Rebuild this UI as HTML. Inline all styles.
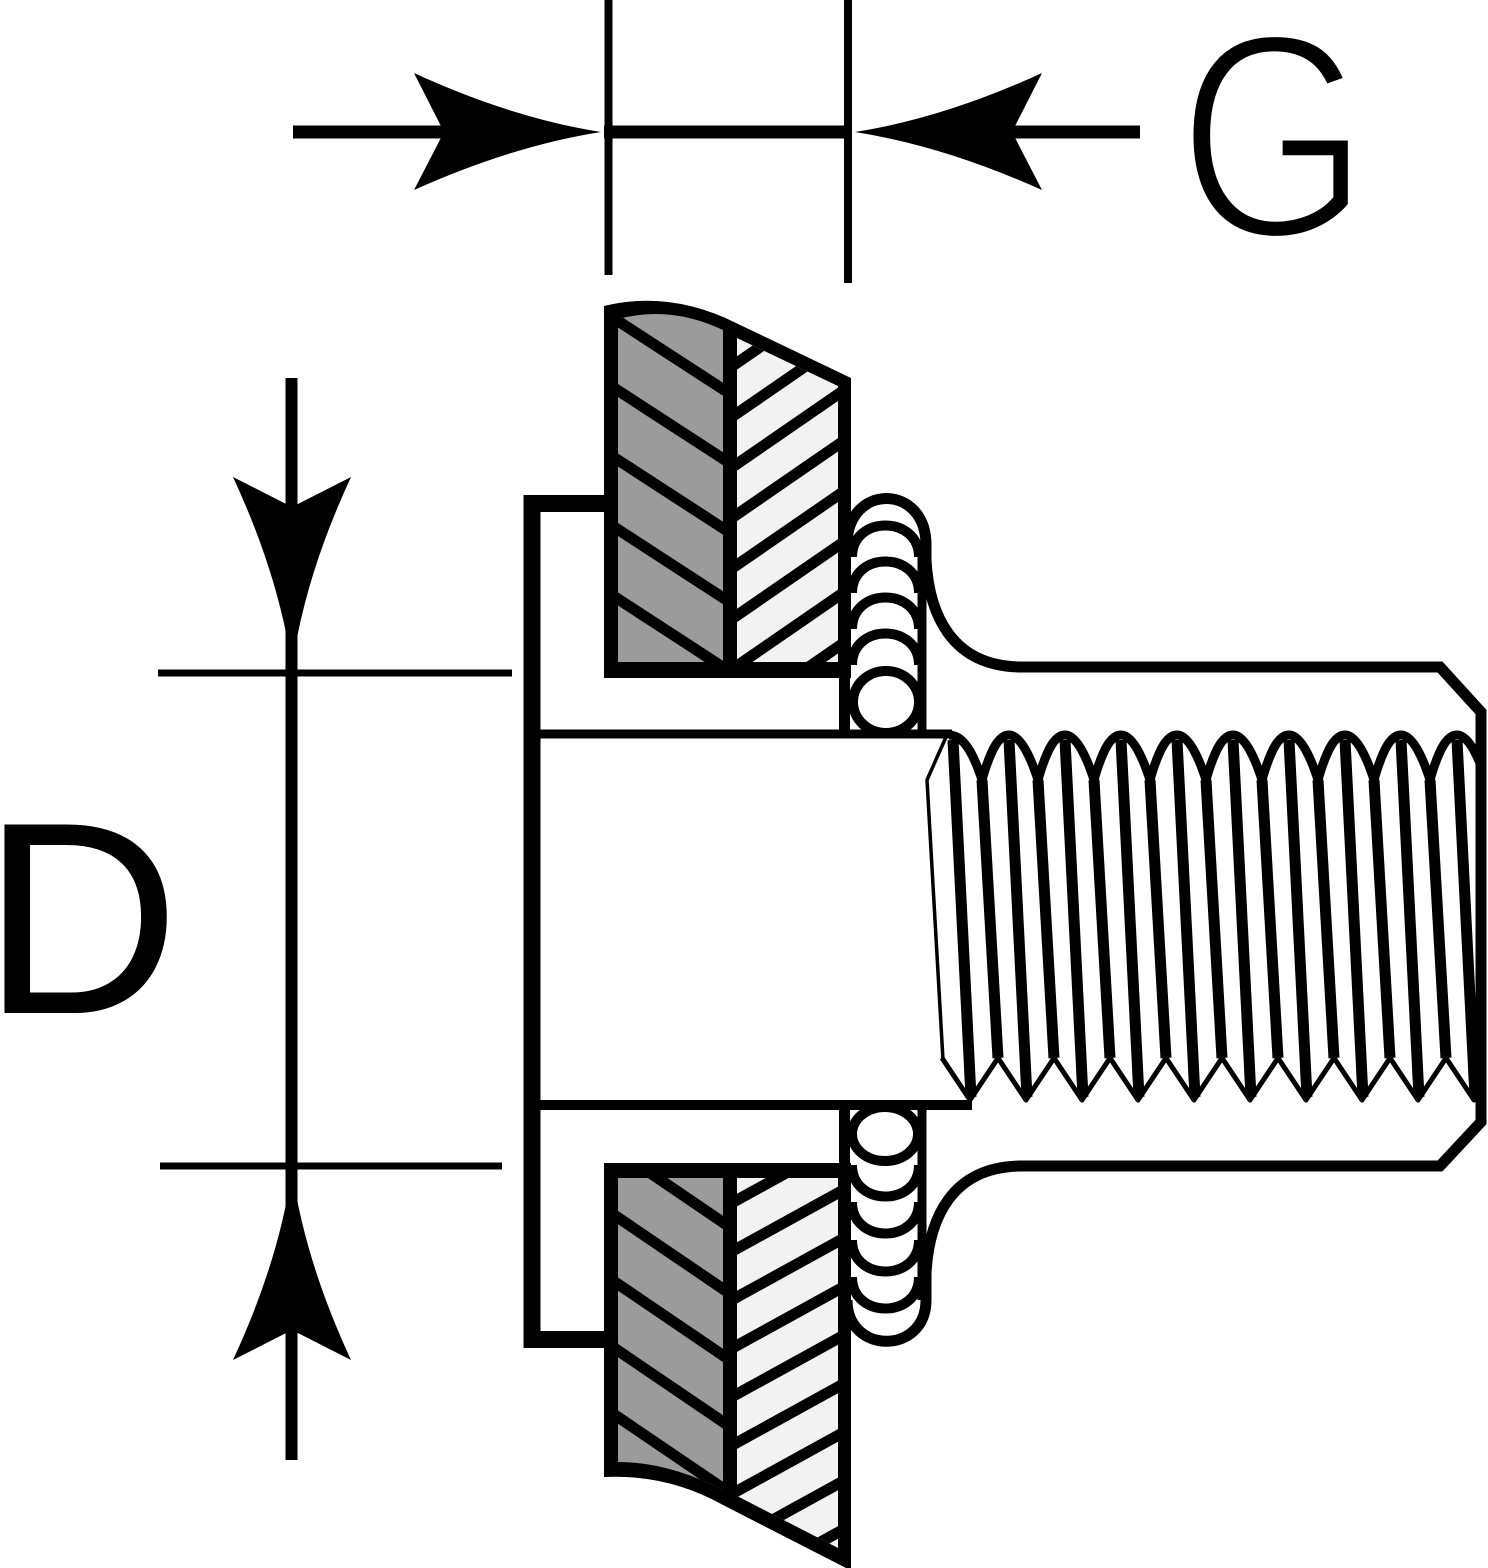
<!DOCTYPE html>
<html><head><meta charset="utf-8"><style>
html,body{margin:0;padding:0;background:#fff;}
svg{display:block;}
</style></head><body>
<svg width="1488" height="1568" viewBox="0 0 1488 1568" xmlns="http://www.w3.org/2000/svg">
<defs>
<clipPath id="gU"><path d="M618 319 Q670 305 723 330 L723 662 L618 662 Z"/></clipPath>
<clipPath id="hU"><path d="M737 338 L838 386 L838 662 L737 662 Z"/></clipPath>
<clipPath id="gL"><path d="M618 1178 L723 1178 L723 1490 Q668 1462 618 1462 Z"/></clipPath>
<clipPath id="hL"><path d="M737 1178 L838 1178 L838 1548 L737 1496 Z"/></clipPath>
<clipPath id="thr"><rect x="900" y="700" width="576" height="430"/></clipPath>
</defs>
<rect width="1488" height="1568" fill="#fff"/>

<!-- G dimension -->
<g fill="#000">
<rect x="604.5" y="0" width="8" height="275"/>
<rect x="844" y="0" width="8" height="283"/>
<rect x="293" y="125.5" width="152" height="13"/>
<rect x="604" y="125.5" width="244" height="13"/>
<rect x="1011" y="125.5" width="129" height="13"/>
<path d="M414 73 Q512 118 601 132 Q512 146 414 190 L444 132 Z"/>
<path d="M1042 73 Q944 118 855 132 Q944 146 1042 190 L1012 132 Z"/>
</g>
<text transform="translate(1177.7,237) scale(0.845,1)" font-family="Liberation Sans, Arial, sans-serif" font-size="292" fill="#000" stroke="#fff" stroke-width="8">G</text>

<!-- D dimension -->
<g fill="#000">
<rect x="285.5" y="378" width="12" height="1082"/>
<rect x="158" y="669.5" width="354" height="7"/>
<rect x="160" y="1162.5" width="342" height="7"/>
<path d="M233 477 Q279 576 292 667 Q305 576 351 477 L292 507 Z"/>
<path d="M233 1360 Q279 1261 292 1170 Q305 1261 351 1360 L292 1330 Z"/>
</g>
<text x="-18" y="1013" font-family="Liberation Sans, Arial, sans-serif" font-size="274" fill="#000">D</text>

<!-- Upper plate -->
<path d="M604 306 Q670 290 736 323 L851 378 L851 678 L604 678 Z" fill="#000"/>
<path d="M618 319 Q670 305 723 330 L723 662 L618 662 Z" fill="#9b9b9b"/>
<path d="M737 338 L838 386 L838 662 L737 662 Z" fill="#f2f2f2"/>
<g clip-path="url(#gU)" stroke="#000" stroke-width="11" fill="none">
<path d="M610 315.8 L730 393.8"/>
<path d="M610 385.3 L730 463.3"/>
<path d="M610 454.8 L730 532.8"/>
<path d="M610 524.3 L730 602.3"/>
<path d="M610 593.8 L730 671.8"/>
</g>
<g clip-path="url(#hU)" stroke="#000" stroke-width="11" fill="none">
<path d="M730 367.8 L845 288.5"/>
<path d="M730 418.3 L845 339"/>
<path d="M730 468.8 L845 389.5"/>
<path d="M730 519.3 L845 440"/>
<path d="M730 569.8 L845 490.5"/>
<path d="M730 620.3 L845 541"/>
<path d="M730 670.8 L845 591.5"/>
<path d="M730 721.3 L845 642"/>
</g>

<!-- Lower plate -->
<path d="M604 1163 L851 1163 L851 1568 L846 1568 L723 1505 Q668 1474 604 1477 Z" fill="#000"/>
<path d="M618 1178 L723 1178 L723 1490 Q668 1462 618 1462 Z" fill="#9b9b9b"/>
<path d="M737 1178 L838 1178 L838 1548 L737 1496 Z" fill="#f2f2f2"/>
<g clip-path="url(#gL)" stroke="#000" stroke-width="11" fill="none">
<path d="M610 1145.6 L730 1227.2"/>
<path d="M610 1212.1 L730 1293.7"/>
<path d="M610 1278.6 L730 1360.2"/>
<path d="M610 1345.1 L730 1426.7"/>
<path d="M610 1411.6 L730 1493.2"/>
</g>
<g clip-path="url(#hL)" stroke="#000" stroke-width="11" fill="none">
<path d="M730 1203.9 L845 1140.6"/>
<path d="M730 1252.4 L845 1189.1"/>
<path d="M730 1300.9 L845 1237.6"/>
<path d="M730 1349.4 L845 1286.1"/>
<path d="M730 1397.9 L845 1334.6"/>
<path d="M730 1446.4 L845 1383.1"/>
<path d="M730 1494.9 L845 1431.6"/>
<path d="M730 1543.4 L845 1480.1"/>
<path d="M730 1591.9 L845 1528.6"/>
</g>

<!-- Flange and bore -->
<g stroke="#000" fill="none" stroke-linejoin="miter">
<path d="M606 503.5 L532 503.5 L532 1339.5 L606 1339.5" stroke-width="17"/>
<path d="M532 734 L952 734" stroke-width="9"/>
<path d="M532 1105 L972 1105" stroke-width="10"/>
<path d="M844.5 670 L844.5 738 M844.5 1100 L844.5 1170" stroke-width="11"/>
<path d="M922 545 L922 736 M922 1103 L922 1300" stroke-width="9"/>
</g>

<!-- Coils upper -->
<g stroke="#000" fill="none" stroke-width="10">
<path d="M852 557 C852 515 919 515 919 557"/>
<path d="M852 593 C852 551 919 551 919 593"/>
<path d="M852 629 C852 587 919 587 919 629"/>
<path d="M852 665 C852 623 919 623 919 665"/>
<ellipse cx="886" cy="702" rx="33" ry="31"/>
</g>
<!-- Coils lower -->
<g stroke="#000" fill="none" stroke-width="10">
<ellipse cx="885" cy="1134" rx="33" ry="27"/>
<path d="M852 1165 C852 1207 919 1207 919 1165"/>
<path d="M852 1202 C852 1244 919 1244 919 1202"/>
<path d="M852 1240 C852 1282 919 1282 919 1240"/>
<path d="M852 1277 C852 1319 919 1319 919 1277"/>
</g>

<!-- Outer body contour -->
<path d="M847 545 C847 483 926 483 926 545 L926 560 C929 615 952 666 1020 667 L1440 667 L1481 712 L1481 1122 L1440 1166 L1020 1166 C952 1167 929 1218 926 1273 L926 1300 C926 1355 847 1355 847 1300" stroke="#000" stroke-width="11" fill="none" stroke-linejoin="miter"/>

<!-- Thread -->
<g clip-path="url(#thr)" stroke="#000" fill="none" stroke-linejoin="round">
<path d="M946 737 L927 780 L943 1060" stroke-width="3.5"/>
<path d="M949 735 C964 735 974 755 982 780" stroke-width="9"/>
<path d="M953 740 L971 1097 M982 780 L998 1058" stroke-width="11"/>
<path d="M942 1058 L970 1100 L998 1058" stroke-width="5"/>
<g transform="translate(1008,0)">
<path d="M-26 780 C-18 752 -10 735 1 735 C12 735 22 755 30 780" stroke-width="9"/>
<path d="M1 740 L19 1097 M30 780 L46 1058" stroke-width="11"/>
<path d="M-10 1058 L18 1100 L46 1058" stroke-width="5"/>
</g>
<g transform="translate(1064,0)">
<path d="M-26 780 C-18 752 -10 735 1 735 C12 735 22 755 30 780" stroke-width="9"/>
<path d="M1 740 L19 1097 M30 780 L46 1058" stroke-width="11"/>
<path d="M-10 1058 L18 1100 L46 1058" stroke-width="5"/>
</g>
<g transform="translate(1120,0)">
<path d="M-26 780 C-18 752 -10 735 1 735 C12 735 22 755 30 780" stroke-width="9"/>
<path d="M1 740 L19 1097 M30 780 L46 1058" stroke-width="11"/>
<path d="M-10 1058 L18 1100 L46 1058" stroke-width="5"/>
</g>
<g transform="translate(1176,0)">
<path d="M-26 780 C-18 752 -10 735 1 735 C12 735 22 755 30 780" stroke-width="9"/>
<path d="M1 740 L19 1097 M30 780 L46 1058" stroke-width="11"/>
<path d="M-10 1058 L18 1100 L46 1058" stroke-width="5"/>
</g>
<g transform="translate(1232,0)">
<path d="M-26 780 C-18 752 -10 735 1 735 C12 735 22 755 30 780" stroke-width="9"/>
<path d="M1 740 L19 1097 M30 780 L46 1058" stroke-width="11"/>
<path d="M-10 1058 L18 1100 L46 1058" stroke-width="5"/>
</g>
<g transform="translate(1288,0)">
<path d="M-26 780 C-18 752 -10 735 1 735 C12 735 22 755 30 780" stroke-width="9"/>
<path d="M1 740 L19 1097 M30 780 L46 1058" stroke-width="11"/>
<path d="M-10 1058 L18 1100 L46 1058" stroke-width="5"/>
</g>
<g transform="translate(1344,0)">
<path d="M-26 780 C-18 752 -10 735 1 735 C12 735 22 755 30 780" stroke-width="9"/>
<path d="M1 740 L19 1097 M30 780 L46 1058" stroke-width="11"/>
<path d="M-10 1058 L18 1100 L46 1058" stroke-width="5"/>
</g>
<g transform="translate(1400,0)">
<path d="M-26 780 C-18 752 -10 735 1 735 C12 735 22 755 30 780" stroke-width="9"/>
<path d="M1 740 L19 1097 M30 780 L46 1058" stroke-width="11"/>
<path d="M-10 1058 L18 1100 L46 1058" stroke-width="5"/>
</g>
<g transform="translate(1456,0)">
<path d="M-26 780 C-18 752 -10 735 1 735 C12 735 22 755 30 780" stroke-width="9"/>
<path d="M1 740 L19 1097 M30 780 L46 1058" stroke-width="11"/>
<path d="M-10 1058 L18 1100 L46 1058" stroke-width="5"/>
</g>
</g>
</svg>
</body></html>
